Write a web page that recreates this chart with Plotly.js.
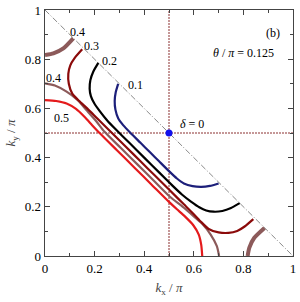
<!DOCTYPE html>
<html><head><meta charset="utf-8">
<script src="https://cdn.plot.ly/plotly-3.0.1.min.js"></script>
<style>html,body{margin:0;padding:0;background:#fff}#c{width:300px;height:302px}</style>
</head><body><div id="c"></div>
<script>
// Iso-lines (level values)
const levels = ["0.1", "0.2", "0.3", "0.4", "0.5"];
const navyX = [0.295,0.285,0.281,0.284,0.295,0.315,0.345,0.385,0.4225,0.460,0.500,0.532,0.560,0.595,0.630,0.665,0.700];
const navyY = [0.700,0.665,0.630,0.595,0.560,0.532,0.500,0.460,0.4225,0.385,0.345,0.315,0.295,0.284,0.281,0.285,0.295];
const blackX = [0.215,0.195,0.183,0.180,0.185,0.198,0.220,0.250,0.285,0.340,0.400,0.460,0.515,0.552,0.590,0.622,0.650,0.680,0.715,0.750,0.785];
const blackY = [0.785,0.750,0.715,0.680,0.650,0.622,0.590,0.552,0.515,0.460,0.400,0.340,0.285,0.250,0.220,0.198,0.185,0.180,0.183,0.195,0.215];
const dredX = [0.150,0.120,0.102,0.094,0.096,0.110,0.138,0.170,0.210,0.268,0.327,0.385,0.443,0.502,0.560,0.600,0.630,0.660,0.700,0.740,0.775,0.805,0.840];
const dredY = [0.840,0.805,0.775,0.740,0.700,0.660,0.630,0.600,0.560,0.502,0.443,0.385,0.327,0.268,0.210,0.170,0.138,0.110,0.096,0.094,0.102,0.120,0.150];
const brownX = [0.000,0.040,0.087,0.130,0.170,0.205,0.240,0.306,0.3725,0.439,0.505,0.550,0.590,0.635,0.668,0.693,0.702];
const brownY = [0.702,0.693,0.668,0.635,0.590,0.550,0.505,0.439,0.3725,0.306,0.240,0.205,0.170,0.130,0.087,0.040,0.000];
const cornerAX = [0.000,0.034,0.074,0.114];
const cornerAY = [0.817,0.824,0.844,0.885];
const cornerBX = [0.817,0.824,0.844,0.885];
const cornerBY = [0.000,0.034,0.074,0.114];
const redX = [0.000,0.045,0.087,0.125,0.160,0.190,0.220,0.290,0.360,0.430,0.500,0.532,0.565,0.598,0.620,0.630,0.634];
const redY = [0.634,0.630,0.620,0.598,0.565,0.532,0.500,0.430,0.360,0.290,0.220,0.190,0.160,0.125,0.087,0.045,0.000];
const diagX = [0, 1];
const diagY = [1, 0];
const halfLine = [0.5, 0.5];
const span = [0, 1];
const pointX = [0.5];
const pointY = [0.5];
const tickVals = [0, 0.2, 0.4, 0.6, 0.8, 1];
const tickText = ["0", "0.2", "0.4", "0.6", "0.8", "1"];

const ff = "Liberation Serif, Times New Roman, serif";
const sp = {shape:'spline', smoothing:0.6};
function curve(x, y, color, w){ return {x:x, y:y, mode:'lines', line:Object.assign({color:color, width:w}, sp), hoverinfo:'skip'}; }

const data = [
  {x:diagX, y:diagY, mode:'lines', line:{color:'#8a8a8a', width:1, dash:'6px,2px,1px,2px'}},
  {x:halfLine, y:span, mode:'lines', line:{color:'#8b3030', width:1, dash:'2px,1px'}},
  {x:span, y:halfLine, mode:'lines', line:{color:'#8b3030', width:1, dash:'2px,1px'}},
  curve(redX, redY, '#e41a1c', 2.2),
  curve(brownX, brownY, '#8c5a5a', 2.2),
  curve(cornerAX, cornerAY, '#8c5a5a', 4),
  curve(cornerBX, cornerBY, '#8c5a5a', 4),
  curve(dredX, dredY, '#8b0a0a', 2.2),
  curve(blackX, blackY, '#000000', 2.2),
  curve(navyX, navyY, '#1c1f7a', 2.2),
  {x:pointX, y:pointY, mode:'markers', marker:{color:'#1010ee', size:7}}
];

const axBase = {range:[0,1], showgrid:false, zeroline:false, showline:true, linecolor:'#444', linewidth:1.3,
  mirror:'allticks', ticks:'inside', ticklen:5, tickcolor:'#444', tickwidth:1,
  tickvals:tickVals, ticktext:tickText, tickfont:{family:ff, size:13, color:'#000'},
  minor:{ticks:'inside', ticklen:3, dtick:0.1, tickcolor:'#444'}};

const lbl = (t, x, y) => ({text:t, x:x, y:y, xref:'x', yref:'y', showarrow:false, font:{family:ff, size:12, color:'#000'}});

const layout = {
  width:300, height:302, margin:{l:45, r:7, t:10, b:46},
  paper_bgcolor:'#fff', plot_bgcolor:'#fff', showlegend:false,
  xaxis:Object.assign({}, axBase, {title:{text:'<i>k</i><sub>x</sub> / <i>π</i>', font:{family:ff, size:13}, standoff:8}}),
  yaxis:Object.assign({}, axBase, {title:{text:'<i>k</i><sub>y</sub> / <i>π</i>', font:{family:ff, size:13}, standoff:6}}),
  annotations:[
    lbl(levels[0], 0.363, 0.695),
    lbl(levels[1], 0.262, 0.793),
    lbl(levels[2], 0.188, 0.854),
    lbl(levels[3], 0.132, 0.912),
    lbl(levels[3], 0.034, 0.722),
    lbl(levels[4], 0.067, 0.560),
    {text:'<i>δ</i> = 0', x:0.535, y:0.538, xanchor:'left', xref:'x', yref:'y', showarrow:false, font:{family:ff, size:12, color:'#000'}},
    {text:'(b)', x:0.955, y:0.905, xanchor:'right', xref:'x', yref:'y', showarrow:false, font:{family:ff, size:12, color:'#000'}},
    {text:'<i>θ</i> / <i>π</i> = 0.125', x:0.93, y:0.824, xanchor:'right', xref:'x', yref:'y', showarrow:false, font:{family:ff, size:12, color:'#000'}}
  ]
};
Plotly.newPlot('c', data, layout, {staticPlot:true, displayModeBar:false});
</script></body></html>
